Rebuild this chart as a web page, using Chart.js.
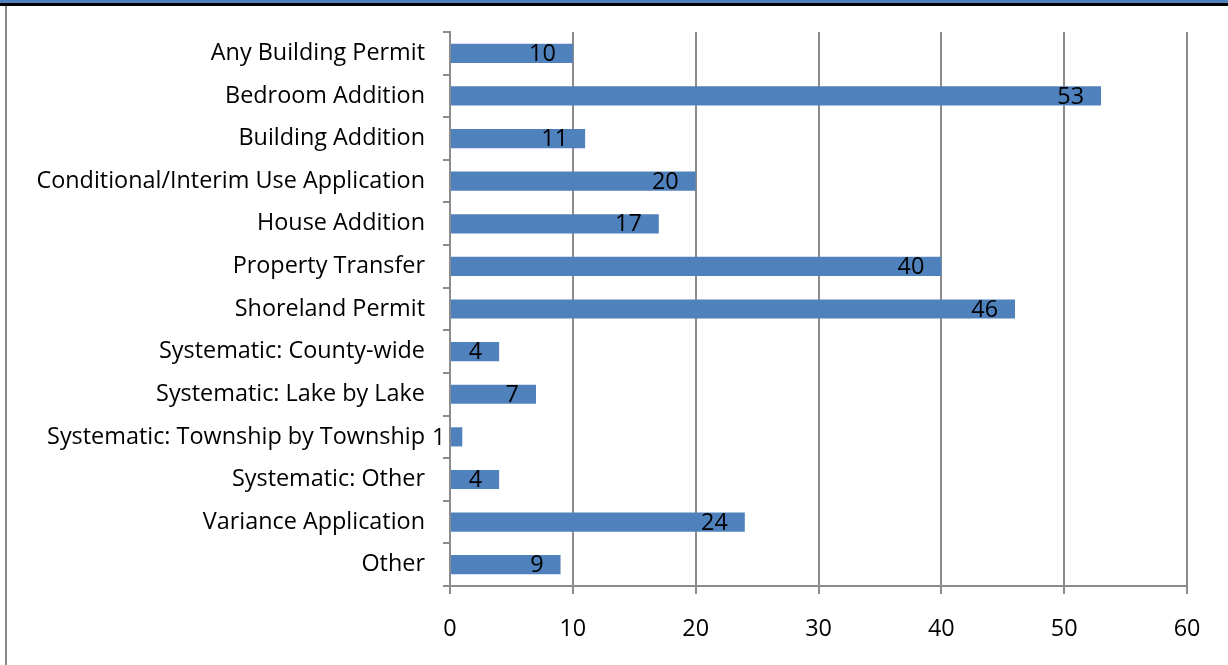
<!DOCTYPE html>
<html>
<head>
<meta charset="utf-8">
<script src="https://cdn.jsdelivr.net/npm/chart.js@4/dist/chart.umd.min.js"></script>
<style>
  html, body { margin: 0; padding: 0; background: #fff; }
  #wrap { position: relative; width: 1228px; height: 665px; overflow: hidden; }
  #topband { position: absolute; left: 0; top: 0; width: 1228px; height: 3px; background: #4f81bd; border-bottom: 3px solid #000; }
  #leftline { position: absolute; left: 5px; top: 6px; width: 2px; height: 659px; background: #8a8a8a; }
  canvas { position: absolute; left: 0; top: 0; }
</style>
</head>
<body>
<div id="wrap">
  <canvas id="chartPermits" width="1228" height="665"></canvas>
  <div id="topband"></div>
  <div id="leftline"></div>
</div>
<script>
const categories = [
  'Any Building Permit',
  'Bedroom Addition',
  'Building Addition',
  'Conditional/Interim Use Application',
  'House Addition',
  'Property Transfer',
  'Shoreland Permit',
  'Systematic: County-wide',
  'Systematic: Lake by Lake',
  'Systematic: Township by Township',
  'Systematic: Other',
  'Variance Application',
  'Other'
];
const counts = [10, 53, 11, 20, 17, 40, 46, 4, 7, 1, 4, 24, 9];
const xTicks = [0, 10, 20, 30, 40, 50, 60];

const police = { family: 'Open Sans', size: 23.4 };

// valeurs écrites à l'intérieur du bout de chaque barre
const etiquettes = {
  id: 'etiquettes',
  afterDatasetsDraw(chart) {
    const ctx = chart.ctx;
    const meta = chart.getDatasetMeta(0);
    ctx.save();
    ctx.font = police.size + 'px "' + police.family + '"';
    ctx.fillStyle = '#000';
    ctx.textAlign = 'right';
    ctx.textBaseline = 'middle';
    meta.data.forEach((barre, i) => {
      ctx.fillText(String(counts[i]), barre.x - 17, barre.y + 1);
    });
    ctx.restore();
  }
};

new Chart(document.getElementById('chartPermits'), {
  type: 'bar',
  data: {
    labels: categories,
    datasets: [{
      data: counts,
      backgroundColor: '#4f81bd',
      borderWidth: 0,
      categoryPercentage: 1,
      barPercentage: 0.45
    }]
  },
  options: {
    indexAxis: 'y',
    responsive: false,
    animation: false,
    layout: { padding: { top: 30, right: 41, left: 0, bottom: 0 } },
    plugins: {
      legend: { display: false },
      tooltip: { enabled: false }
    },
    scales: {
      x: {
        min: 0,
        max: 60,
        afterBuildTicks: (scale) => { scale.ticks = xTicks.map(v => ({ value: v })); },
        ticks: { color: '#000', font: police, padding: 21, maxRotation: 0 },
        grid: { color: '#8c8c8c', lineWidth: 2, tickLength: 8 },
        border: { color: '#8c8c8c', width: 2 },
        afterFit: (scale) => { scale.height = 665 - 30 - 556; }
      },
      y: {
        ticks: { color: '#000', font: police, padding: 18, autoSkip: false },
        grid: { offset: true, drawOnChartArea: false, color: '#8c8c8c', lineWidth: 2, tickLength: 7 },
        border: { color: '#8c8c8c', width: 2 },
        afterFit: (scale) => { scale.width = 450; }
      }
    }
  },
  plugins: [etiquettes]
});
</script>
</body>
</html>
